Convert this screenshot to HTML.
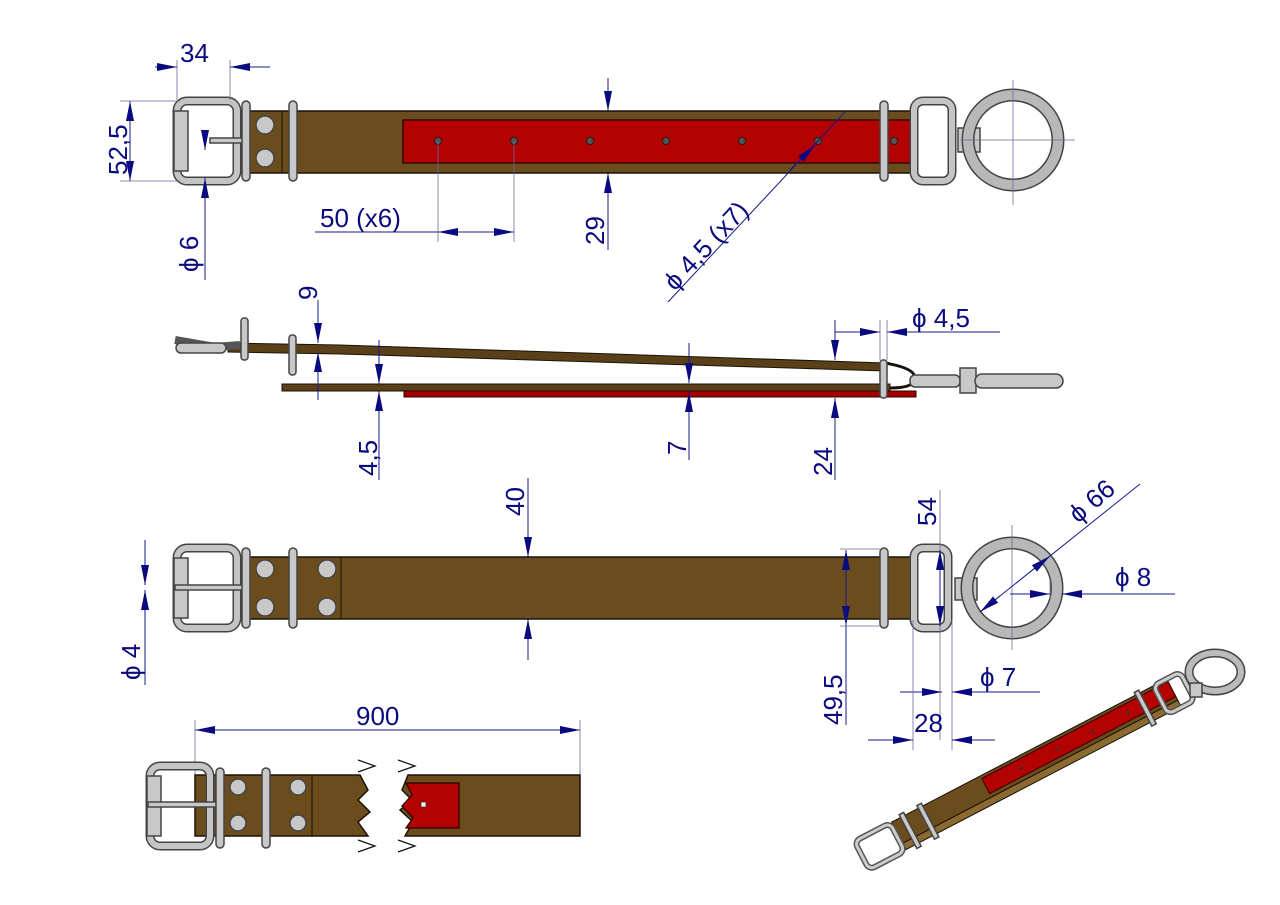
<!DOCTYPE html>
<html><head><meta charset="utf-8"><style>
html,body{margin:0;padding:0;background:#fff}
svg{display:block}
text{font-family:"Liberation Sans",sans-serif;fill:#0a0a80;font-size:26px}
.d{stroke:#1a1a8a;stroke-width:1;fill:none}
.e{stroke:#6a6aa0;stroke-width:0.8;fill:none}
.s{fill:#6b4c1c;stroke:#1a1208;stroke-width:1.5}
.r{fill:#b30000;stroke:#2a0000;stroke-width:1.3}
.m{fill:#c8c8c8;stroke:#444;stroke-width:1.5}
</style></head><body>
<svg width="1280" height="905" viewBox="0 0 1280 905" xmlns="http://www.w3.org/2000/svg">
<defs>
<marker id="a" viewBox="0 0 20 8" refX="20" refY="4" markerWidth="20" markerHeight="8" orient="auto" markerUnits="userSpaceOnUse"><path d="M0,0 L20,4 L0,8 z" fill="#0a0a80"/></marker>
<g id="buckle">
<rect x="0" y="0" width="60" height="80" rx="10" fill="none" stroke="#444" stroke-width="9"/>
<rect x="0" y="0" width="60" height="80" rx="10" fill="none" stroke="#c4c4c4" stroke-width="6"/>
<rect x="-3" y="10" width="14" height="60" class="m"/>
</g>
<g id="loop"><rect x="-4" y="0" width="8" height="80" rx="4" class="m"/></g>
<g id="ring">
<circle r="45" fill="none" stroke="#444" stroke-width="13"/>
<circle r="45" fill="none" stroke="#b8b8b8" stroke-width="10"/>
</g>
</defs>

<!-- VIEW 1 -->
<rect x="237" y="111" width="680" height="62" class="s"/>
<line x1="282" y1="111" x2="282" y2="173" stroke="#1a1208"/>
<rect x="403" y="120" width="512" height="43" class="r"/>
<use href="#buckle" x="177" y="101"/>
<rect x="210" y="138" width="40" height="5" class="m"/>
<use href="#loop" x="246" y="101"/>
<use href="#loop" x="293" y="101"/>
<circle cx="265" cy="125" r="9" class="m"/><circle cx="265" cy="158" r="9" class="m"/>
<g fill="#555" stroke="#222" stroke-width="1"><circle cx="438" cy="141" r="3.5"/><circle cx="514" cy="141" r="3.5"/><circle cx="590" cy="141" r="3.5"/><circle cx="666" cy="141" r="3.5"/><circle cx="742" cy="141" r="3.5"/><circle cx="818" cy="141" r="3.5"/><circle cx="894" cy="141" r="3.5"/></g>
<use href="#loop" x="884" y="101"/>
<rect x="914" y="101" width="38" height="80" rx="9" fill="none" stroke="#444" stroke-width="9"/>
<rect x="914" y="101" width="38" height="80" rx="9" fill="none" stroke="#c4c4c4" stroke-width="6"/>
<rect x="958" y="128" width="22" height="24" class="m"/>
<use href="#ring" x="1013" y="140"/>
<line x1="960" y1="140" x2="1075" y2="140" class="e"/><line x1="1013" y1="80" x2="1013" y2="205" class="e"/>

<!-- dims view1 -->
<text x="180" y="62">34</text>
<line x1="155" y1="67" x2="177" y2="67" class="d" marker-end="url(#a)"/>
<line x1="270" y1="67" x2="230" y2="67" class="d" marker-end="url(#a)"/>
<line x1="177" y1="60" x2="177" y2="100" class="e"/><line x1="230" y1="60" x2="230" y2="100" class="e"/>
<line x1="130" y1="140" x2="130" y2="101" class="d" marker-end="url(#a)"/>
<line x1="130" y1="140" x2="130" y2="181" class="d" marker-end="url(#a)"/>
<line x1="120" y1="101" x2="180" y2="101" class="e"/><line x1="120" y1="181" x2="180" y2="181" class="e"/>
<text transform="translate(127,175) rotate(-90)">52,5</text>
<line x1="205" y1="130" x2="205" y2="150" class="d" marker-end="url(#a)"/>
<line x1="205" y1="280" x2="205" y2="178" class="d" marker-end="url(#a)"/>
<text transform="translate(198,272) rotate(-90)">ϕ 6</text>
<text x="320" y="227">50  (x6)</text>
<line x1="315" y1="232" x2="514" y2="232" class="d"/>
<line x1="470" y1="232" x2="438" y2="232" class="d" marker-end="url(#a)"/>
<line x1="480" y1="232" x2="514" y2="232" class="d" marker-end="url(#a)"/>
<line x1="438" y1="141" x2="438" y2="242" class="e"/><line x1="514" y1="141" x2="514" y2="242" class="e"/>
<line x1="608" y1="78" x2="608" y2="111" class="d" marker-end="url(#a)"/>
<line x1="608" y1="250" x2="608" y2="173" class="d" marker-end="url(#a)"/>
<text transform="translate(604,245) rotate(-90)">29</text>
<line x1="668" y1="302" x2="845" y2="112" class="d"/>
<line x1="790" y1="170" x2="815" y2="145" class="d" marker-end="url(#a)"/>
<text transform="translate(675,292) rotate(-47)">ϕ 4,5  (x7)</text>

<!-- VIEW 2 side -->
<path d="M228,343 L340,345 L885,363 L885,371 L340,354 L228,352 z" fill="#5a4018" stroke="#1a1208"/>
<rect x="282" y="384" width="608" height="7" fill="#5a4018" stroke="#1a1208"/>
<rect x="404" y="391" width="512" height="6" fill="#a00000" stroke="#300"/>
<path d="M885,363 Q915,368 915,378 Q915,388 890,388" fill="none" stroke="#1a1208" stroke-width="3"/>
<path d="M175,340 L215,347 L240,345" fill="none" stroke="#555" stroke-width="8"/>
<rect x="176" y="343" width="50" height="10" rx="5" class="m"/>
<rect x="241" y="318" width="7" height="42" rx="3" class="m"/>
<rect x="289" y="335" width="7" height="40" rx="3" class="m"/>
<rect x="880" y="360" width="7" height="38" rx="3" class="m"/>
<rect x="910" y="375" width="50" height="12" rx="5" class="m"/>
<rect x="960" y="368" width="16" height="25" class="m"/>
<rect x="975" y="374" width="88" height="14" rx="7" class="m"/>
<!-- dims view2 -->
<line x1="318" y1="300" x2="318" y2="343" class="d" marker-end="url(#a)"/>
<line x1="318" y1="400" x2="318" y2="352" class="d" marker-end="url(#a)"/>
<text transform="translate(317,300) rotate(-90)">9</text>
<line x1="379" y1="340" x2="379" y2="384" class="d" marker-end="url(#a)"/>
<line x1="379" y1="480" x2="379" y2="391" class="d" marker-end="url(#a)"/>
<text transform="translate(377,476) rotate(-90)">4,5</text>
<line x1="689" y1="343" x2="689" y2="383" class="d" marker-end="url(#a)"/>
<line x1="689" y1="460" x2="689" y2="392" class="d" marker-end="url(#a)"/>
<text transform="translate(686,455) rotate(-90)">7</text>
<line x1="835" y1="320" x2="835" y2="360" class="d" marker-end="url(#a)"/>
<line x1="835" y1="480" x2="835" y2="398" class="d" marker-end="url(#a)"/>
<text transform="translate(832,476) rotate(-90)">24</text>
<line x1="835" y1="332" x2="880" y2="332" class="d" marker-end="url(#a)"/>
<line x1="1000" y1="332" x2="887" y2="332" class="d" marker-end="url(#a)"/>
<line x1="880" y1="320" x2="880" y2="360" class="e"/><line x1="887" y1="320" x2="887" y2="360" class="e"/>
<text x="912" y="327">ϕ  4,5</text>

<!-- VIEW 3 -->
<rect x="237" y="557" width="680" height="62" class="s"/>
<line x1="341" y1="557" x2="341" y2="619" stroke="#1a1208"/>
<use href="#buckle" x="177" y="548"/>
<rect x="175" y="585" width="75" height="5" class="m"/>
<use href="#loop" x="246" y="548"/>
<use href="#loop" x="293" y="548"/>
<circle cx="265" cy="569" r="9" class="m"/><circle cx="265" cy="607" r="9" class="m"/>
<circle cx="327" cy="569" r="9" class="m"/><circle cx="327" cy="607" r="9" class="m"/>
<use href="#loop" x="884" y="548"/>
<rect x="914" y="548" width="34" height="80" rx="9" fill="none" stroke="#444" stroke-width="9"/>
<rect x="914" y="548" width="34" height="80" rx="9" fill="none" stroke="#c4c4c4" stroke-width="6"/>
<rect x="955" y="578" width="22" height="22" class="m"/>
<use href="#ring" x="1012" y="588"/>
<line x1="1012" y1="525" x2="1012" y2="650" class="e"/>
<!-- dims view3 -->
<line x1="528" y1="478" x2="528" y2="557" class="d" marker-end="url(#a)"/>
<line x1="528" y1="660" x2="528" y2="619" class="d" marker-end="url(#a)"/>
<text transform="translate(524,516) rotate(-90)">40</text>
<line x1="940" y1="490" x2="940" y2="740" class="e"/>
<line x1="940" y1="590" x2="940" y2="550" class="d" marker-end="url(#a)"/>
<line x1="940" y1="590" x2="940" y2="626" class="d" marker-end="url(#a)"/>
<text transform="translate(936,526) rotate(-90)">54</text>
<line x1="846" y1="590" x2="846" y2="550" class="d" marker-end="url(#a)"/>
<line x1="846" y1="590" x2="846" y2="626" class="d" marker-end="url(#a)"/>
<line x1="846" y1="590" x2="846" y2="725" class="d"/>
<line x1="840" y1="549" x2="880" y2="549" class="e"/><line x1="840" y1="626" x2="880" y2="626" class="e"/>
<text transform="translate(842,725) rotate(-90)">49,5</text>
<line x1="145" y1="540" x2="145" y2="585" class="d" marker-end="url(#a)"/>
<line x1="145" y1="685" x2="145" y2="590" class="d" marker-end="url(#a)"/>
<text transform="translate(140,680) rotate(-90)">ϕ 4</text>
<line x1="1140" y1="484" x2="980" y2="612" class="d"/>
<line x1="1000" y1="596" x2="980" y2="612" class="d" marker-end="url(#a)"/>
<line x1="1030" y1="572" x2="1050" y2="556" class="d" marker-end="url(#a)"/>
<text transform="translate(1078,524) rotate(-40)">ϕ 66</text>
<text x="1115" y="586">ϕ  8</text>
<line x1="1010" y1="594" x2="1050" y2="594" class="d" marker-end="url(#a)"/>
<line x1="1175" y1="594" x2="1062" y2="594" class="d" marker-end="url(#a)"/>
<line x1="1050" y1="580" x2="1050" y2="600" class="e"/>
<text x="980" y="686">ϕ  7</text>
<line x1="900" y1="692" x2="942" y2="692" class="d" marker-end="url(#a)"/>
<line x1="1040" y1="692" x2="952" y2="692" class="d" marker-end="url(#a)"/>
<line x1="913" y1="620" x2="913" y2="750" class="e"/><line x1="952" y1="620" x2="952" y2="750" class="e"/>
<text x="914" y="732">28</text>
<line x1="868" y1="740" x2="913" y2="740" class="d" marker-end="url(#a)"/>
<line x1="995" y1="740" x2="952" y2="740" class="d" marker-end="url(#a)"/>

<!-- VIEW 4 -->
<text x="356" y="725">900</text>
<line x1="240" y1="730" x2="195" y2="730" class="d" marker-end="url(#a)"/>
<line x1="240" y1="730" x2="580" y2="730" class="d" marker-end="url(#a)"/>
<line x1="195" y1="720" x2="195" y2="775" class="e"/><line x1="580" y1="720" x2="580" y2="775" class="e"/>
<path d="M195,775 L360,775 L368,790 L358,800 L370,812 L358,822 L368,836 L195,836 z" class="s"/>
<path d="M408,775 L580,775 L580,836 L405,836 L413,822 L400,810 L412,800 L402,790 z" class="s"/>
<path d="M406,783 L459,783 L459,828 L406,828 L413,818 L402,806 L412,795 z" class="r"/>
<rect x="421" y="802" width="5" height="5" fill="#eee" stroke="#333" stroke-width="0.7"/>
<line x1="312" y1="775" x2="312" y2="836" stroke="#1a1208"/>
<path d="M358,760 L375,766 L358,772 M358,840 L375,846 L358,852 M398,760 L415,766 L398,772 M398,840 L415,846 L398,852" fill="none" stroke="#111" stroke-width="1.2"/>
<use href="#buckle" x="150" y="766"/>
<rect x="148" y="802" width="75" height="5" class="m"/>
<use href="#loop" x="220" y="768"/>
<use href="#loop" x="266" y="768"/>
<circle cx="238" cy="787" r="8" class="m"/><circle cx="238" cy="823" r="8" class="m"/>
<circle cx="298" cy="787" r="8" class="m"/><circle cx="298" cy="823" r="8" class="m"/>

<!-- VIEW 5 iso -->
<g transform="translate(900,838) rotate(-27.5)">
<rect x="0" y="-18" width="310" height="24" fill="#6b4c1c" stroke="#1a1208"/>
<rect x="0" y="6" width="310" height="7" fill="#8a6a30" stroke="#1a1208"/>
<rect x="100" y="-15" width="210" height="17" fill="#b30000" stroke="#300"/>
<g fill="#333"><circle cx="140" cy="-6" r="1.5"/><circle cx="180" cy="-6" r="1.5"/><circle cx="220" cy="-6" r="1.5"/><circle cx="260" cy="-6" r="1.5"/><circle cx="295" cy="-6" r="1.5"/></g>
<rect x="-42" y="-18" width="40" height="32" rx="6" fill="none" stroke="#555" stroke-width="6"/>
<rect x="-42" y="-18" width="40" height="32" rx="6" fill="none" stroke="#ccc" stroke-width="3"/>
<rect x="10" y="-21" width="5" height="38" class="m"/><rect x="30" y="-21" width="5" height="38" class="m"/>
<rect x="275" y="-21" width="5" height="38" class="m"/>
<rect x="295" y="-18" width="30" height="32" rx="6" fill="none" stroke="#555" stroke-width="6"/>
<rect x="295" y="-18" width="30" height="32" rx="6" fill="none" stroke="#ccc" stroke-width="3"/>
</g>
<ellipse cx="1215" cy="672" rx="26" ry="19" fill="none" stroke="#444" stroke-width="9"/>
<ellipse cx="1215" cy="672" rx="26" ry="19" fill="none" stroke="#bbb" stroke-width="6"/>
<rect x="1190" y="683" width="12" height="14" class="m"/>
</svg>
</body></html>
